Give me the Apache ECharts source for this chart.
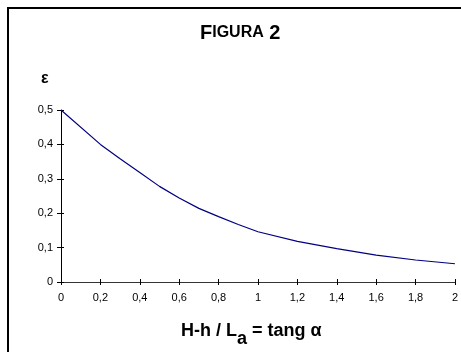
<!DOCTYPE html>
<html>
<head>
<meta charset="utf-8">
<script src="https://cdn.jsdelivr.net/npm/echarts@6/dist/echarts.min.js"></script>
<style>
  html, body { margin: 0; padding: 0; background: #fff; overflow: hidden; }
  #chart { width: 461px; height: 352px; }
</style>
</head>
<body>
<div id="chart"></div>
<script>
// tang α values and ε
const tangAlpha = [0, 0.2, 0.3, 0.4, 0.5, 0.6, 0.7, 0.8, 0.9, 1.0, 1.2, 1.4, 1.6, 1.8, 2.0];
const epsilon = [0.5, 0.40, 0.358, 0.318, 0.278, 0.244, 0.214, 0.19, 0.167, 0.146, 0.118, 0.097, 0.078, 0.064, 0.053];

const titleText = "FIGURA 2";
const yName = "ε";

const font = "Arial, 'Liberation Sans', sans-serif";
const comma = (v) => String(Math.round(v * 10) / 10).replace(".", ",");

const chart = echarts.init(document.getElementById("chart"));

const xBase = {
  type: "value", min: 0, max: 2, interval: 0.2,
  splitLine: { show: false },
};
const yBase = {
  type: "value", min: 0, max: 0.5, interval: 0.1,
  splitLine: { show: false },
};

chart.setOption({
  backgroundColor: "#fff",
  animation: false,
  grid: { left: 61, right: 4, top: 110, bottom: 70 },
  xAxis: [
    Object.assign({}, xBase, {
      axisLine: { lineStyle: { color: "#333", width: 1 } },
      axisTick: { length: 3, lineStyle: { color: "#000" } },
      axisLabel: { color: "#000", fontFamily: font, fontSize: 11, margin: 10, formatter: comma },
    }),
    // second copy so ticks cross the axis line
    Object.assign({}, xBase, {
      position: "bottom",
      axisLine: { show: false },
      axisTick: { inside: true, length: 3, lineStyle: { color: "#000" } },
      axisLabel: { show: false },
    }),
  ],
  yAxis: [
    Object.assign({}, yBase, {
      axisLine: { show: true, lineStyle: { color: "#000", width: 1 } },
      axisTick: { show: true, length: 4, lineStyle: { color: "#000" } },
      axisLabel: { color: "#000", fontFamily: font, fontSize: 11, margin: 8, formatter: comma },
    }),
    Object.assign({}, yBase, {
      position: "left",
      axisLine: { show: false },
      axisTick: { show: true, inside: true, length: 3, lineStyle: { color: "#000" } },
      axisLabel: { show: false },
    }),
  ],
  series: [{
    type: "line",
    data: tangAlpha.map((x, i) => [x, epsilon[i]]),
    showSymbol: false,
    smooth: false,
    lineStyle: { color: "#000080", width: 1.2 },
  }],
  graphic: [
    {
      type: "line", silent: true,
      shape: { x1: 7, y1: 8, x2: 461, y2: 8 },
      style: { stroke: "#000", lineWidth: 2 },
    },
    {
      type: "line", silent: true,
      shape: { x1: 8, y1: 7, x2: 8, y2: 352 },
      style: { stroke: "#000", lineWidth: 2 },
    },
    {
      type: "text", left: 200, top: 23,
      style: {
        text: "{a|F}{b|IGURA}{a| 2}",
        rich: {
          a: { fontFamily: font, fontWeight: "bold", fontSize: 20, fill: "#000" },
          b: { fontFamily: font, fontWeight: "bold", fontSize: 16, fill: "#000" },
        },
      },
    },
    {
      type: "text", left: 41, top: 71,
      style: { text: yName, fontFamily: font, fontWeight: "bold", fontSize: 16, fill: "#000" },
    },
    {
      type: "text", left: 181, top: 322,
      style: {
        text: "{m|H-h / L}{s|a}{m| = tang α}",
        rich: {
          m: { fontFamily: font, fontWeight: "bold", fontSize: 18, fill: "#000", verticalAlign: "bottom", lineHeight: 22 },
          s: { fontFamily: font, fontWeight: "bold", fontSize: 18, fill: "#000", verticalAlign: "bottom", lineHeight: 22, padding: [0, 0, -8, 0] },
        },
      },
    },
  ],
});
</script>
</body>
</html>
